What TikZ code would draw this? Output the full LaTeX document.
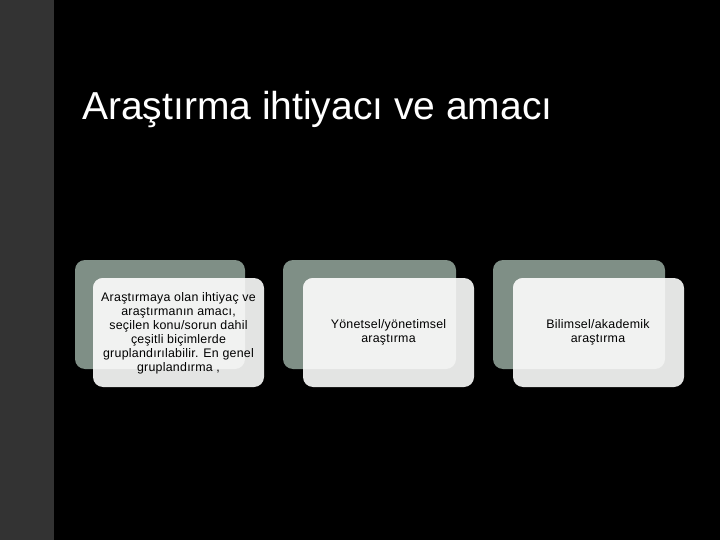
\documentclass[tikz,border=0pt]{standalone}
\usepackage{fontspec}
\setmainfont{Liberation Sans}
\newfontfamily\boxfont[LetterSpace=2]{Liberation Sans}
\definecolor{strip}{HTML}{333333}
\definecolor{backbox}{HTML}{7F8F86}
\definecolor{frontbox}{HTML}{E3E4E3}
\definecolor{overlapc}{HTML}{F1F2F1}
\tikzset{
  backshape/.style={fill=backbox, rounded corners=10pt, draw=none},
  frontshape/.style={fill=frontbox, rounded corners=10pt, draw=none},
  overshape/.style={fill=overlapc, rounded corners=10pt, draw=none},
  boxtext/.style={font=\boxfont\fontsize{12.4}{14}\selectfont, align=center, text=black, inner sep=0pt},
}
\begin{document}
\begin{tikzpicture}[x=1pt,y=-1pt]
\useasboundingbox (0,0) rectangle (720,540);
\fill[black] (0,0) rectangle (720,540);
\fill[strip] (0,0) rectangle (54,540);
\node[anchor=base west, text=white, inner sep=0pt, font=\fontsize{39}{44}\selectfont] (title) at (82,120) {Araştırma ihtiyacı ve amacı};
% group 1
\fill[backshape] (75,260) rectangle (245,369);
\fill[frontshape] (93,278) rectangle (264,387);
\begin{scope}
\clip[rounded corners=10pt] (93,278) rectangle (264,387);
\fill[overshape] (75,260) rectangle (245,369);
\end{scope}
\node[boxtext] (t1) at (178.5,333) {Araştırmaya olan ihtiyaç ve\\araştırmanın amacı,\\seçilen konu/sorun dahil\\çeşitli biçimlerde\\gruplandırılabilir. En genel\\gruplandırma ,};
% group 2
\fill[backshape] (283,260) rectangle (456,369);
\fill[frontshape] (303,278) rectangle (474,387);
\begin{scope}
\clip[rounded corners=10pt] (303,278) rectangle (474,387);
\fill[overshape] (283,260) rectangle (456,369);
\end{scope}
\node[boxtext] (t2) at (388.5,332) {Yönetsel/yönetimsel\\araştırma};
% group 3
\fill[backshape] (493,260) rectangle (665,369);
\fill[frontshape] (513,278) rectangle (684,387);
\begin{scope}
\clip[rounded corners=10pt] (513,278) rectangle (684,387);
\fill[overshape] (493,260) rectangle (665,369);
\end{scope}
\node[boxtext] (t3) at (598,332) {Bilimsel/akademik\\araştırma};
\end{tikzpicture}
\end{document}
